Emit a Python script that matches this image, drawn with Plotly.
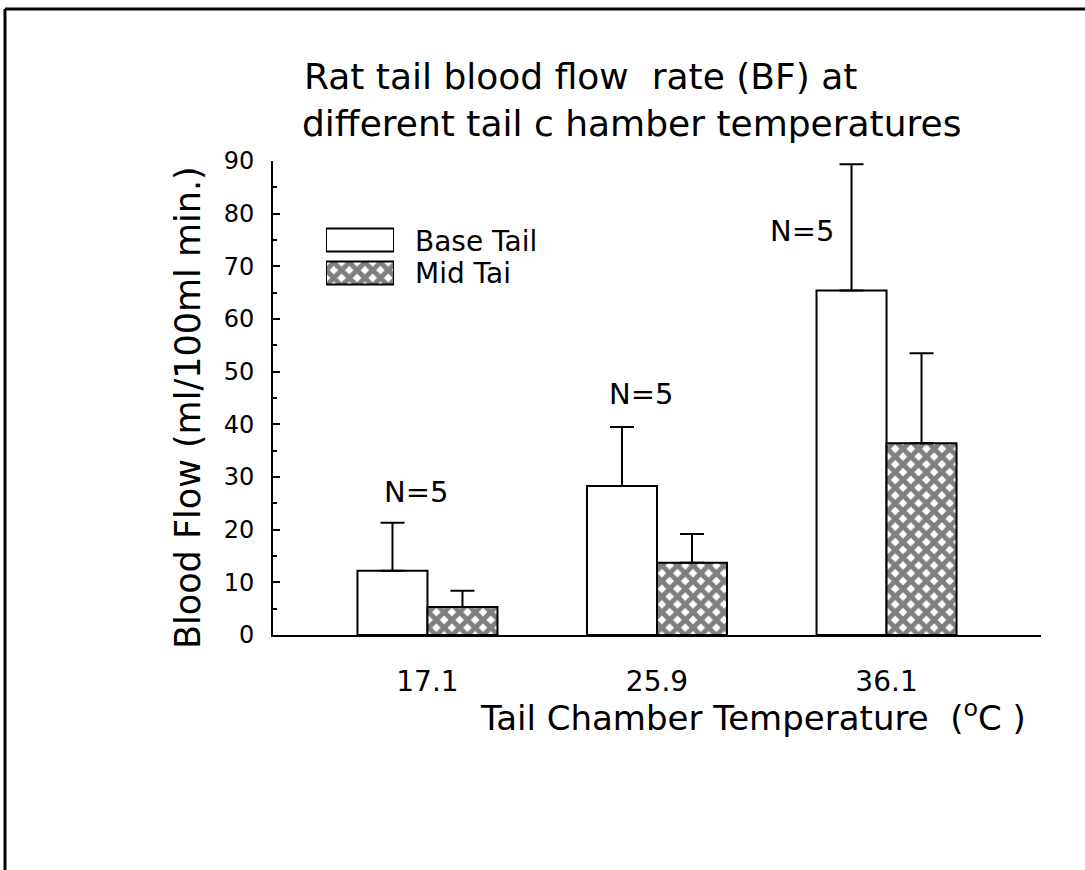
import plotly.graph_objects as go

# Tail chamber temperatures (°C) and blood-flow statistics
temps = ["17.1", "25.9", "36.1"]
base_mean = [12.2, 28.3, 65.4]
base_sd = [9.1, 11.2, 24.0]
mid_mean = [5.3, 13.7, 36.4]
mid_sd = [3.1, 5.5, 17.1]
n_labels = ["N=5", "N=5", "N=5"]
series_names = ["Base Tail", "Mid Tai"]

FONT = "DejaVu Sans"
W, H = 1085, 870
L, R, T, B = 273, 1041, 161, 635   # plot area in pixels


def px(x):
    return (x - L) / (R - L)


def py(y):
    return (B - y) / (B - T)


hatch = dict(shape="x", size=11, solidity=0.7, fgcolor="black", bgcolor="white", fillmode="overlay")
outline = dict(color="black", width=2)
err_style = dict(type="data", symmetric=False, arrayminus=[0] * 3, color="black", thickness=2, width=12)

fig = go.Figure()
fig.add_trace(go.Bar(
    x=temps, y=base_mean, name=series_names[0],
    marker=dict(color="white", line=outline),
    error_y=dict(array=base_sd, **err_style),
    showlegend=False,
))
fig.add_trace(go.Bar(
    x=temps, y=mid_mean, name=series_names[1],
    marker=dict(color="white", line=outline, pattern=hatch),
    error_y=dict(array=mid_sd, **err_style),
    showlegend=False,
))

# legend swatches drawn as bars on a small inset axis
fig.add_trace(go.Bar(
    y=[series_names[0], series_names[1]], x=[1, 1], orientation="h",
    marker=dict(color="white", line=outline,
                pattern=dict(shape=["", "x"], size=11, solidity=0.7, fgcolor="black",
                             bgcolor="white", fillmode="overlay")),
    xaxis="x2", yaxis="y2", width=0.7, showlegend=False, hoverinfo="skip",
))

annotations = []
# N labels
n_pos = [(-0.05, 27.2), (-0.07, 45.8), (-0.37, 76.7)]
for i, (lab, (xo, yv)) in enumerate(zip(n_labels, n_pos)):
    annotations.append(dict(x=i + xo, y=yv, xref="x", yref="y", text=lab, showarrow=False,
                            font=dict(family=FONT, size=29, color="black")))

# legend labels
for name, yc in zip(series_names, [241, 273]):
    annotations.append(dict(x=px(413), y=py(yc), xref="paper", yref="paper", text=name,
                            xanchor="left", yanchor="middle", showarrow=False,
                            font=dict(family=FONT, size=28, color="black")))

# title
annotations.append(dict(x=px(302), y=py(77), xref="paper", yref="paper",
                        text="Rat tail blood flow\u00a0\u00a0rate (BF) at", xanchor="left",
                        yanchor="middle", showarrow=False,
                        font=dict(family=FONT, size=36, color="black")))
annotations.append(dict(x=px(300), y=py(124), xref="paper", yref="paper",
                        text="different tail c hamber temperatures", xanchor="left",
                        yanchor="middle", showarrow=False,
                        font=dict(family=FONT, size=36, color="black")))
# x-axis title
annotations.append(dict(x=px(478), y=py(716), xref="paper", yref="paper",
                        text="Tail Chamber Temperature\u00a0\u00a0(<sup>o</sup>C )", xanchor="left",
                        yanchor="middle", showarrow=False,
                        font=dict(family=FONT, size=34, color="black")))
# y-axis title
annotations.append(dict(x=px(188), y=py(408), xref="paper", yref="paper",
                        text="Blood Flow (ml/100ml min.)", textangle=-90,
                        xanchor="center", yanchor="middle", showarrow=False,
                        font=dict(family=FONT, size=35, color="black")))

# page frame: top and left rules
shapes = [
    dict(type="line", xref="paper", yref="paper", x0=px(5), x1=px(W + 5), y0=py(9), y1=py(9),
         line=dict(color="black", width=3)),
    dict(type="line", xref="paper", yref="paper", x0=px(5), x1=px(5), y0=py(9), y1=py(H),
         line=dict(color="black", width=3)),
]

fig.update_layout(
    width=W, height=H,
    margin=dict(l=L, r=W - R, t=T, b=H - B, pad=0),
    paper_bgcolor="white", plot_bgcolor="white",
    barmode="group", bargap=0.39, bargroupgap=0,
    font=dict(family=FONT, color="black"),
    annotations=annotations, shapes=shapes,
    xaxis=dict(range=[-0.673, 2.673], showgrid=False, zeroline=False,
               showline=True, linecolor="black", linewidth=2, ticks="",
               tickfont=dict(family=FONT, size=28, color="black"), ticklabelstandoff=20),
    yaxis=dict(range=[0, 90], dtick=10, showgrid=False, zeroline=False,
               showline=True, linecolor="black", linewidth=2,
               ticks="inside", ticklen=7, tickwidth=1.5, tickcolor="black",
               minor=dict(dtick=5, ticks="inside", ticklen=4, tickwidth=1.5, tickcolor="black"),
               tickfont=dict(family=FONT, size=24, color="black"), ticklabelstandoff=12),
    xaxis2=dict(domain=[px(326), px(394)], range=[0, 1], anchor="y2", visible=False),
    yaxis2=dict(domain=[py(289.5), py(223.5)], range=[-0.5, 1.5], anchor="x2", visible=False,
                categoryorder="array", categoryarray=[series_names[1], series_names[0]]),
)

fig.write_html("out.html")
